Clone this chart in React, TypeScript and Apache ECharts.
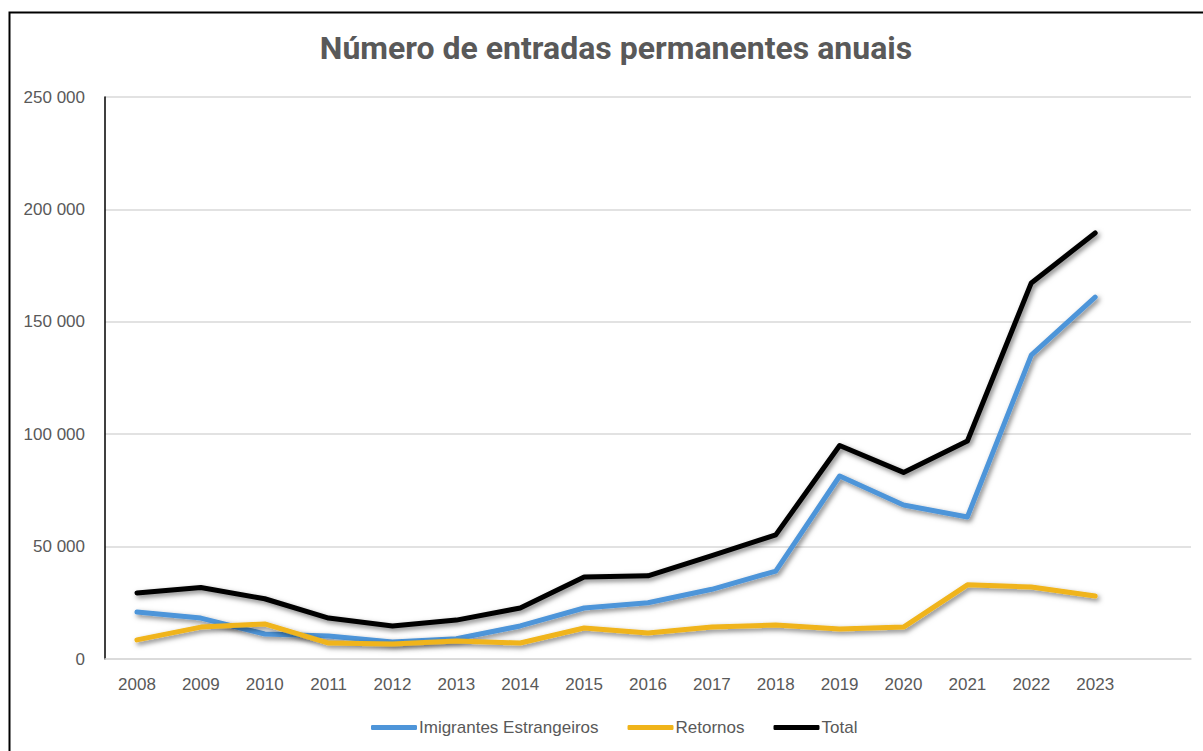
import React, { useEffect, useRef } from "react";
import * as echarts from "echarts";

const title = "Número de entradas permanentes anuais";
const years = ["2008","2009","2010","2011","2012","2013","2014","2015","2016","2017","2018","2019","2020","2021","2022","2023",""];
const imigrantes = [20900,18200,11100,10200,7600,9000,14700,22700,25000,31000,39100,81400,68500,63200,135200,161000];
const retornos = [8500,14200,15600,7100,6700,8000,7100,13800,11600,14200,15100,13300,14200,33000,32000,28000];
const total = [29400,31800,26800,18200,14700,17300,22700,36500,37000,46000,55200,95000,83000,97000,167300,189500];
const yTicks = { min: 0, max: 250000, interval: 50000 };

const fmt = (v: number) => String(v).replace(/\B(?=(\d{3})+(?!\d))/g, " ");

export default function App() {
  const ref = useRef<HTMLDivElement>(null);
  useEffect(() => {
    if (!ref.current) return;
    const chart = echarts.init(ref.current, undefined, { renderer: "svg" });
    const shadow = {
      shadowColor: "rgba(0,0,0,0.5)",
      shadowBlur: 5,
      shadowOffsetX: 2,
      shadowOffsetY: 2.5,
    };
    const mk = (name: string, data: number[], color: string) => ({
      name,
      type: "line",
      data,
      showSymbol: false,
      symbol: "none",
      color,
      lineStyle: { width: 5, color, cap: "round", join: "round", ...shadow },
    });
    chart.setOption({
      animation: false,
      backgroundColor: "#ffffff",
      title: {
        text: title,
        left: 611,
        top: 27,
        textAlign: "center",
        textStyle: { fontFamily: "Roboto", fontWeight: "bold", fontSize: 32, color: "#595959" },
      },
      graphic: [
        {
          type: "rect",
          shape: { x: 9.5, y: 12.5, width: 1260, height: 800 },
          style: { fill: "none", stroke: "#000", lineWidth: 2 },
          silent: true,
        },
      ],
      legend: {
        left: 366,
        top: 714,
        itemWidth: 46,
        itemHeight: 5,
        itemGap: 29,
        icon: "roundRect",
        textStyle: { fontFamily: "Liberation Sans", fontSize: 17, color: "#595959", padding: [0, 0, 0, -3] },
        data: ["Imigrantes Estrangeiros", "Retornos", "Total"],
      },
      grid: { left: 105, right: 12, top: 97, bottom: 92, containLabel: false },
      xAxis: {
        type: "category",
        data: years,
        boundaryGap: true,
        axisLine: { show: true, lineStyle: { color: "#d9d9d9", width: 1.5 } },
        axisTick: { show: false },
        axisLabel: { color: "#595959", fontFamily: "Liberation Sans", fontSize: 17, margin: 17 },
      },
      yAxis: {
        type: "value",
        min: yTicks.min,
        max: yTicks.max,
        interval: yTicks.interval,
        axisLine: { show: true, lineStyle: { color: "#000", width: 1.5 } },
        axisTick: { show: false },
        splitLine: { show: true, lineStyle: { color: "#d9d9d9", width: 1.5 } },
        axisLabel: { color: "#595959", fontFamily: "Liberation Sans", fontSize: 17, margin: 20, formatter: (v: number) => fmt(v) },
      },
      series: [
        mk("Imigrantes Estrangeiros", imigrantes, "#4e95d9"),
        mk("Retornos", retornos, "#f0b41a"),
        mk("Total", total, "#000000"),
      ],
    });
    return () => chart.dispose();
  }, []);
  return <div ref={ref} style={{ position: "fixed", left: 0, top: 0, width: 1203, height: 751 }} />;
}
